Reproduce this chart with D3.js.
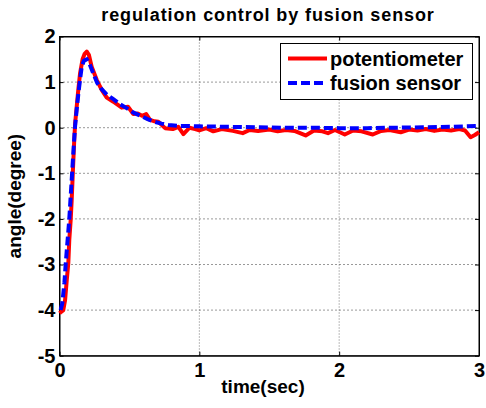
<!DOCTYPE html>
<html>
<head>
<meta charset="utf-8">
<script src="https://cdn.jsdelivr.net/npm/d3@7"></script>
<style>
  body { margin: 0; background: #fff; }
  svg { display: block; font-family: "Liberation Sans", Arial, sans-serif; font-weight: bold; }
</style>
</head>
<body>
<svg id="chart" width="486" height="408"></svg>
<script>
// time (sec) and angle (degree)
const potTime = [0, 0.027, 0.04, 0.052, 0.063, 0.07, 0.08, 0.087, 0.095, 0.105, 0.112, 0.123, 0.135, 0.147, 0.165, 0.18, 0.195, 0.21, 0.23,
  0.266, 0.302, 0.338, 0.385, 0.445, 0.49, 0.528, 0.56, 0.59, 0.62, 0.647, 0.68, 0.707, 0.755, 0.81, 0.85, 0.886, 0.93, 0.97,
  1.0, 1.05, 1.1, 1.16, 1.24, 1.31, 1.36, 1.42, 1.5, 1.56, 1.62, 1.68, 1.76, 1.82, 1.88, 1.92, 1.97, 2.04, 2.1, 2.16, 2.24,
  2.3, 2.36, 2.44, 2.5, 2.56, 2.62, 2.68, 2.74, 2.8, 2.86, 2.9, 2.94, 2.97, 3.0];
const potAngle = [-4.07, -4.0, -3.78, -3.34, -2.97, -2.46, -2.02, -1.6, -1.0, -0.3, 0.1, 0.46, 0.85, 1.19, 1.5, 1.62, 1.67, 1.6, 1.34,
  1.05, 0.83, 0.66, 0.57, 0.44, 0.46, 0.3, 0.31, 0.26, 0.3, 0.17, 0.14, 0.13, -0.01, -0.03, 0.02, -0.14, 0.0, -0.03,
  -0.06, -0.01, -0.08, -0.03, -0.07, -0.12, -0.05, -0.07, -0.04, -0.08, -0.05, -0.07, -0.17, -0.06, -0.08, -0.12, -0.05, -0.15, -0.06, -0.08, -0.15,
  -0.07, -0.05, -0.1, -0.04, -0.06, -0.03, -0.07, -0.04, -0.06, -0.03, -0.06, -0.21, -0.16, -0.1];

const fusTime = [0.008, 0.02, 0.035, 0.044, 0.057, 0.07, 0.08, 0.09, 0.1, 0.111, 0.123, 0.135, 0.147, 0.159, 0.175, 0.195, 0.215, 0.24,
  0.27, 0.3, 0.34, 0.38, 0.43, 0.48, 0.53, 0.58, 0.63, 0.68, 0.73, 0.78, 0.85, 0.9, 1.0, 1.2, 1.4, 1.6, 1.8, 2.0, 2.2, 2.4, 2.6, 2.8, 3.0];
const fusAngle = [-4.0, -3.85, -3.4, -3.0, -2.5, -2.0, -1.5, -1.0, -0.5, 0.02, 0.4, 0.75, 1.05, 1.34, 1.47, 1.5, 1.4, 1.2,
  0.98, 0.85, 0.72, 0.64, 0.52, 0.43, 0.33, 0.26, 0.19, 0.13, 0.09, 0.06, 0.04, 0.04, 0.03, 0.02, 0.01, 0.0, 0.0, -0.01, -0.01, 0.0, 0.01, 0.02, 0.04];

const xTicks = [0, 1, 2, 3];
const yTicks = [-5, -4, -3, -2, -1, 0, 1, 2];

const seriesNames = ["potentiometer", "fusion sensor"];
const seriesColors = ["#ff0000", "#0000ff"];

const svg = d3.select("#chart");

const x = d3.scaleLinear().domain([0, 3]).range([59.5, 479]);
const y = d3.scaleLinear().domain([-5, 2]).range([355.7, 36.5]);

// grid
svg.append("g").selectAll("line")
  .data(xTicks.slice(1, -1))
  .join("line")
  .attr("x1", d => x(d)).attr("x2", d => x(d))
  .attr("y1", y(2)).attr("y2", y(-5))
  .attr("stroke", "#777").attr("stroke-dasharray", "1,2");

svg.append("g").selectAll("line")
  .data(yTicks.slice(1, -1))
  .join("line")
  .attr("x1", x(0)).attr("x2", x(3))
  .attr("y1", d => y(d)).attr("y2", d => y(d))
  .attr("stroke", "#333").attr("stroke-dasharray", "1,3");

// axes (ticks point inward, box on all sides)
const fmt = d => String(d);  // plain hyphen minus, like the reference
const xAxis = d3.axisBottom(x).tickValues(xTicks).tickFormat(fmt).tickSizeInner(-4).tickSizeOuter(0).tickPadding(7);
const yAxis = d3.axisLeft(y).tickValues(yTicks).tickFormat(fmt).tickSizeInner(-4).tickSizeOuter(0).tickPadding(4);

svg.append("g").attr("transform", `translate(0,${y(-5)})`).call(xAxis);
svg.append("g").attr("transform", `translate(${x(0)},0)`).call(yAxis);
svg.append("g").attr("transform", `translate(0,${y(2)})`)
  .call(d3.axisTop(x).tickValues(xTicks).tickSizeInner(-4).tickSizeOuter(0).tickFormat(""));
svg.append("g").attr("transform", `translate(${x(3)},0)`)
  .call(d3.axisRight(y).tickValues(yTicks).tickSizeInner(-4).tickSizeOuter(0).tickFormat(""));

svg.selectAll(".tick text")
  .attr("font-family", "'Liberation Sans', Arial, sans-serif")
  .attr("font-weight", "bold")
  .attr("font-size", 20)
  .attr("fill", "#000");
svg.selectAll(".domain").attr("stroke", "#000");
svg.selectAll(".tick line").attr("stroke", "#000");

svg.append("rect")
  .attr("x", x(0)).attr("y", y(2))
  .attr("width", x(3) - x(0)).attr("height", y(-5) - y(2))
  .attr("fill", "none").attr("stroke", "#000");

// lines
const pot = potTime.map((t, i) => [t, potAngle[i]]);
const fus = fusTime.map((t, i) => [t, fusAngle[i]]);
const line = d3.line().x(d => x(d[0])).y(d => y(d[1]));

svg.append("path").datum(pot)
  .attr("d", line)
  .attr("fill", "none")
  .attr("stroke", seriesColors[0])
  .attr("stroke-width", 4)
  .attr("stroke-linejoin", "round");

svg.append("path").datum(fus)
  .attr("d", line)
  .attr("fill", "none")
  .attr("stroke", seriesColors[1])
  .attr("stroke-width", 4)
  .attr("stroke-dasharray", "9,4");

// title and axis labels
svg.append("text")
  .attr("x", 268).attr("y", 21)
  .attr("text-anchor", "middle")
  .attr("font-size", 18)
  .attr("letter-spacing", 0.9)
  .text("regulation control by fusion sensor");

svg.append("text")
  .attr("x", 263).attr("y", 393)
  .attr("text-anchor", "middle")
  .attr("font-size", 19)
  .text("time(sec)");

svg.append("text")
  .attr("transform", `translate(21,${(y(2) + y(-5)) / 2}) rotate(-90)`)
  .attr("text-anchor", "middle")
  .attr("font-size", 19)
  .text("angle(degree)");

// legend
const legend = svg.append("g");
legend.append("rect")
  .attr("x", 280.5).attr("y", 43.5)
  .attr("width", 192).attr("height", 56)
  .attr("fill", "#fff").attr("stroke", "#000");

seriesNames.forEach((name, i) => {
  const ly = 58.5 + i * 24.5;
  legend.append("line")
    .attr("x1", 288).attr("x2", 327)
    .attr("y1", ly).attr("y2", ly)
    .attr("stroke", seriesColors[i])
    .attr("stroke-width", 4)
    .attr("stroke-dasharray", i === 1 ? "9,4" : null);
  legend.append("text")
    .attr("x", 330).attr("y", ly + 7)
    .attr("font-size", 20)
    .text(name);
});
</script>
</body>
</html>
